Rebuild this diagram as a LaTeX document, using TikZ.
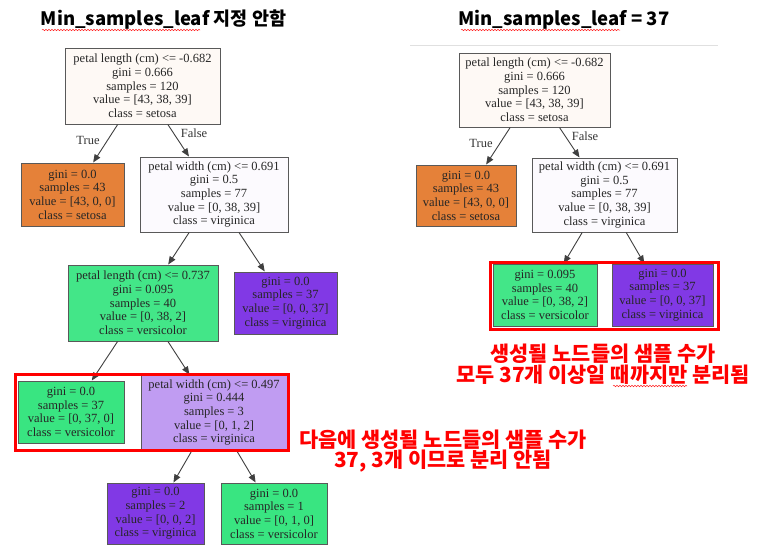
\documentclass[tikz,border=0pt]{standalone}
\usepackage{fontspec}
\setmainfont{Liberation Serif}
\newfontfamily\kr{Noto Sans CJK KR}
\usetikzlibrary{arrows.meta,decorations.pathmorphing}
\definecolor{cset}{HTML}{E58139}
\definecolor{cver}{HTML}{39E581}
\definecolor{cvir}{HTML}{8139E5}
\definecolor{croot}{HTML}{FEF9F5}
\definecolor{cnodeb}{HTML}{FCFAFE}
\definecolor{cnodec}{HTML}{43E688}
\definecolor{cnoded}{HTML}{C09CF2}
\definecolor{redmark}{HTML}{FF0000}
\tikzset{
  treebox/.style={draw=black!65, line width=1pt, align=center, inner sep=0pt,
    font=\fontsize{12.5}{13.7}\selectfont, text=black!85},
  edge/.style={draw=black!75, line width=0.9pt, -{Triangle[length=8pt,width=6.5pt]}},
  elabel/.style={font=\fontsize{12.5}{13.7}\selectfont, text=black!80},
  title/.style={font=\kr\bfseries\fontsize{18.5}{20}\selectfont},
  note/.style={font=\kr\bfseries\fontsize{20.8}{20.5}\selectfont, text=redmark, align=center},
  redbox/.style={draw=redmark, line width=3pt},
  squiggle/.style={draw=red!85, line width=0.5pt, decorate, decoration={snake, segment length=3pt, amplitude=0.7pt}}
}
\begin{document}
\begin{tikzpicture}[x=1pt,y=-1pt]
\useasboundingbox[fill=white] (0,0) rectangle (759,549);

% ---------- left tree ----------
\node[title] (ltitle) at (163.5,20) {Min\_samples\_leaf 지정 안함};
\draw[squiggle] (42,30) -- (200,30);

\node[treebox, fill=croot, minimum width=155pt, minimum height=76pt] (lroot) at (142.5,86)
  {petal length (cm) <= -0.682\\gini = 0.666\\samples = 120\\value = [43, 38, 39]\\class = setosa};
\node[treebox, fill=cset, minimum width=103pt, minimum height=63pt] (lseto) at (72.5,194.5)
  {gini = 0.0\\samples = 43\\value = [43, 0, 0]\\class = setosa};
\node[treebox, fill=cnodeb, minimum width=148pt, minimum height=75pt] (lwid) at (214,194.5)
  {petal width (cm) <= 0.691\\gini = 0.5\\samples = 77\\value = [0, 38, 39]\\class = virginica};
\node[treebox, fill=cnodec, minimum width=150pt, minimum height=76pt] (llen) at (143,303)
  {petal length (cm) <= 0.737\\gini = 0.095\\samples = 40\\value = [0, 38, 2]\\class = versicolor};
\node[treebox, fill=cvir, minimum width=103pt, minimum height=62pt] (lvir) at (285.5,303)
  {gini = 0.0\\samples = 37\\value = [0, 0, 37]\\class = virginica};
\node[treebox, fill=cver, minimum width=106pt, minimum height=62pt] (lver) at (71,412)
  {gini = 0.0\\samples = 37\\value = [0, 37, 0]\\class = versicolor};
\node[treebox, fill=cnoded, minimum width=146pt, minimum height=75pt] (lwid2) at (214,412.5)
  {petal width (cm) <= 0.497\\gini = 0.444\\samples = 3\\value = [0, 1, 2]\\class = virginica};
\node[treebox, fill=cvir, minimum width=97pt, minimum height=61pt] (lvir2) at (155.5,513.5)
  {gini = 0.0\\samples = 2\\value = [0, 0, 2]\\class = virginica};
\node[treebox, fill=cver, minimum width=106pt, minimum height=61pt] (lver2) at (274,513.5)
  {gini = 0.0\\samples = 1\\value = [0, 1, 0]\\class = versicolor};

\draw[edge] (lroot) -- (lseto);
\draw[edge] (lroot) -- (lwid);
\node[elabel] (ltrue) at (88,140) {True};
\node[elabel] (lfalse) at (194,133) {False};
\draw[edge] (lwid) -- (llen);
\draw[edge] (lwid) -- (lvir);
\draw[edge] (llen) -- (lver);
\draw[edge] (llen) -- (lwid2);
\draw[edge] (lwid2) -- (lvir2);
\draw[edge] (lwid2) -- (lver2);

\draw[redbox] (15.5,374.5) rectangle (288.5,450.5);
\node[note] (lnote) at (443,451) {다음에 생성될 노드들의 샘플 수가\\37, 3개 이므로 분리 안됨};

% ---------- right tree ----------
\node[title] (rtitle) at (564,20) {Min\_samples\_leaf = 37};
\draw[squiggle] (461,30) -- (620,30);
\draw[black!12, line width=0.8pt] (410,45) -- (718,45);

\node[treebox, fill=croot, minimum width=151pt, minimum height=74pt] (rroot) at (534.5,90)
  {petal length (cm) <= -0.682\\gini = 0.666\\samples = 120\\value = [43, 38, 39]\\class = setosa};
\node[treebox, fill=cset, minimum width=100pt, minimum height=61pt] (rseto) at (466,195.5)
  {gini = 0.0\\samples = 43\\value = [43, 0, 0]\\class = setosa};
\node[treebox, fill=cnodeb, minimum width=145pt, minimum height=74pt] (rwid) at (604.5,195)
  {petal width (cm) <= 0.691\\gini = 0.5\\samples = 77\\value = [0, 38, 39]\\class = virginica};
\node[treebox, fill=cnodec, minimum width=104pt, minimum height=62pt] (rver) at (545,295)
  {gini = 0.095\\samples = 40\\value = [0, 38, 2]\\class = versicolor};
\node[treebox, fill=cvir, minimum width=101pt, minimum height=62pt] (rvir) at (662.5,295)
  {gini = 0.0\\samples = 37\\value = [0, 0, 37]\\class = virginica};

\draw[edge] (rroot) -- (rseto);
\draw[edge] (rroot) -- (rwid);
\node[elabel] (rtrue) at (481,143) {True};
\node[elabel] (rfalse) at (585,136) {False};
\draw[edge] (rwid) -- (rver);
\draw[edge] (rwid) -- (rvir);

\draw[redbox] (490.5,262.5) rectangle (718.5,329.5);
\node[note] (rnote) at (603,364) {생성될 노드들의 샘플 수가\\모두 37개 이상일 때까지만 분리됨};
\draw[squiggle] (613,386) -- (687,386);
\end{tikzpicture}
\end{document}
